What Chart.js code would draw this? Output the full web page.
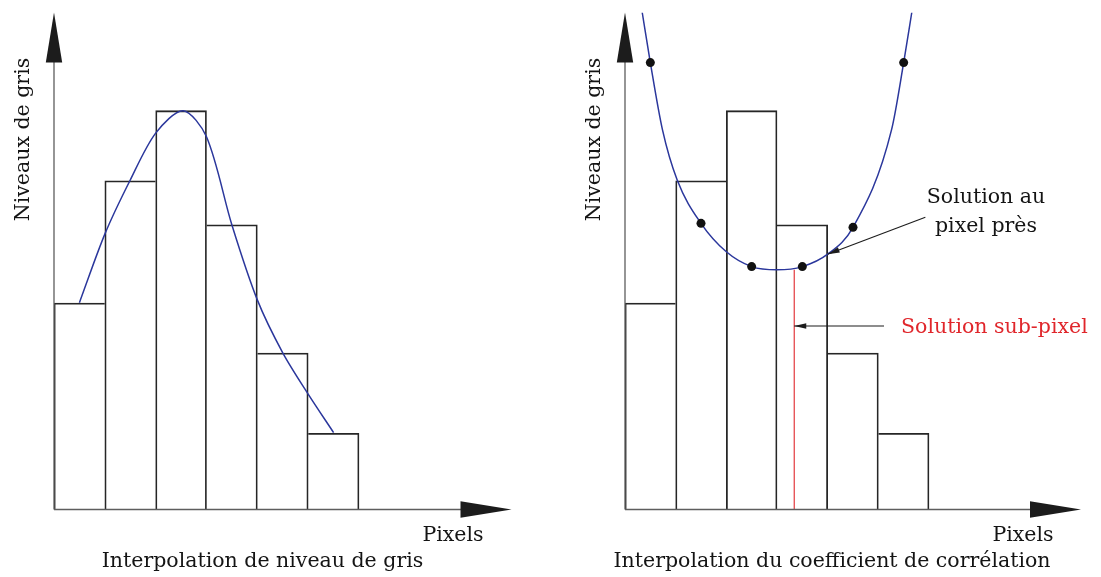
<!DOCTYPE html>
<html>
<head>
<meta charset="utf-8">
<script src="https://cdn.jsdelivr.net/npm/chart.js@4/dist/chart.umd.min.js"></script>
<style>
  html, body { margin: 0; padding: 0; background: #ffffff; }
  #wrap { position: relative; width: 1101px; height: 577px; overflow: hidden; }
  canvas { position: absolute; left: 0; top: 0; }
</style>
</head>
<body>
<div id="wrap">
  <canvas id="left" width="1101" height="577"></canvas>
  <canvas id="right" width="1101" height="577"></canvas>
</div>
<script>
// ---------------- data ----------------
const pixelCenters = [0.5, 1.5, 2.5, 3.5, 4.5, 5.5];          // pixel index (bar centres)
const grayLevels   = [51.5, 82, 99.5, 71, 39, 19];             // histogram bar heights

// interpolated grey-level curve (left panel)
const grayCurveX = [0.5, 1.0, 1.5, 2.0, 2.54, 3.0, 3.5, 4.0, 4.5, 5.0, 5.5];
const grayCurveY = [51.6, 68.7, 82.2, 93.9, 99.5, 93.0, 71.0, 52.3, 39.1, 28.8, 19.2];

// correlation coefficient samples (right panel dots)
const corrDotY = [111.5, 71.4, 60.6, 60.6, 70.4, 111.5];

// interpolated correlation curve (right panel)
const corrCurveX = [0.34, 0.5, 0.74, 1.03, 1.5, 2.0, 2.5, 3.0, 3.5, 4.0, 4.5, 5.26, 5.5, 5.66];
const corrCurveY = [124, 111.5, 94.7, 82.2, 71.4, 64.3, 60.6, 59.8, 60.6, 63.7, 70.4, 94.7, 111.5, 124];

// sub-pixel solution
const subPixelX = 3.34;
const subPixelY = 59.8;
// pixel-level solution (arrow target)
const pixelSolX = 4.0;
const pixelSolY = 63.7;

const xMax = 9;
const yMax = 124;

// ---------------- texts ----------------
const yTitle = 'Niveaux de gris';
const xTitle = 'Pixels';
const leftCaption = 'Interpolation de niveau de gris';
const rightCaption = 'Interpolation du coefficient de corrélation';
const noteLine1 = 'Solution au';
const noteLine2 = 'pixel près';
const subNote = 'Solution sub-pixel';

// ---------------- styles ----------------
const FONT = '20.5px "DejaVu Serif"';
const TEXT = '#141414';
const BAR_LINE = '#262626';
const AXIS_LINE = '#5e5e5e';
const BLUE = '#2b379c';
const RED = '#e0262b';

function toPts(xs, ys) { return xs.map((x, i) => ({ x: x, y: ys[i] })); }

function barBorder(ctx) {
  const i = ctx.dataIndex;
  const h = grayLevels[i];
  const lh = i > 0 ? grayLevels[i - 1] : -1;
  const rh = i < grayLevels.length - 1 ? grayLevels[i + 1] : -1;
  return { top: 1.1, bottom: 0, left: lh > h ? 0 : 1.1, right: rh >= h ? 0 : 1.1 };
}

function arrowHead(ctx, tx, ty, angle, len, half, color) {
  ctx.save();
  ctx.translate(tx, ty);
  ctx.rotate(angle);
  ctx.beginPath();
  ctx.moveTo(0, 0);
  ctx.lineTo(-len, -half);
  ctx.lineTo(-len, half);
  ctx.closePath();
  ctx.fillStyle = color;
  ctx.fill();
  ctx.restore();
}

function axesPlugin(cfg) {
  return {
    id: 'axesAndText',
    afterDatasetsDraw(chart) {
      const ctx = chart.ctx;
      const xs = chart.scales.x, ys = chart.scales.y;
      const x0 = xs.getPixelForValue(0);
      const y0 = ys.getPixelForValue(0);
      const xEnd = xs.getPixelForValue(xMax);
      const yTop = ys.getPixelForValue(yMax);
      ctx.save();
      ctx.strokeStyle = AXIS_LINE;
      ctx.lineWidth = 1.3;
      ctx.beginPath();
      ctx.moveTo(x0, y0);
      ctx.lineTo(xEnd - 40, y0);
      ctx.moveTo(x0, y0);
      ctx.lineTo(x0, yTop + 40);
      ctx.stroke();
      arrowHead(ctx, xEnd, y0, 0, 51, 8.2, '#1c1c1c');
      arrowHead(ctx, x0, yTop, -Math.PI / 2, 50, 8.2, '#1c1c1c');

      ctx.font = FONT;
      ctx.fillStyle = TEXT;
      ctx.textBaseline = 'alphabetic';
      // y title (rotated)
      ctx.save();
      ctx.translate(x0 - 25, yTop + 127);
      ctx.rotate(-Math.PI / 2);
      ctx.textAlign = 'center';
      ctx.fillText(yTitle, 0, 0);
      ctx.restore();
      // x title
      ctx.textAlign = 'center';
      ctx.fillText(xTitle, cfg.pixelsX, y0 + 31);
      ctx.fillText(cfg.caption, cfg.captionX, y0 + 57);

      if (cfg.notes) {
        // "Solution au pixel près" with arrow
        const tx = xs.getPixelForValue(pixelSolX), ty = ys.getPixelForValue(pixelSolY);
        const sx = tx + 97.7, sy = ty - 37;
        ctx.strokeStyle = '#1c1c1c';
        ctx.lineWidth = 1.1;
        ctx.beginPath();
        ctx.moveTo(sx, sy);
        ctx.lineTo(tx, ty);
        ctx.stroke();
        arrowHead(ctx, tx, ty, Math.atan2(ty - sy, tx - sx), 12, 2.8, '#1c1c1c');
        ctx.fillStyle = TEXT;
        ctx.textAlign = 'center';
        ctx.fillText(noteLine1, 986, 202.5);
        ctx.fillText(noteLine2, 986, 231.5);

        // sub-pixel arrow and label
        const rx = xs.getPixelForValue(subPixelX);
        const ay = 326;
        ctx.beginPath();
        ctx.moveTo(884, ay);
        ctx.lineTo(rx, ay);
        ctx.stroke();
        arrowHead(ctx, rx, ay, Math.PI, 12, 2.8, '#1c1c1c');
        ctx.fillStyle = RED;
        ctx.textAlign = 'left';
        ctx.fillText(subNote, 901, 332.5);
      }
      ctx.restore();
    }
  };
}

function baseScales() {
  return {
    x: { type: 'linear', min: 0, max: xMax, offset: false, display: false, ticks: { stepSize: 1 }, grid: { display: false } },
    y: { type: 'linear', min: 0, max: yMax, display: false, grid: { display: false } }
  };
}

const barDataset = () => ({
  type: 'bar',
  data: toPts(pixelCenters, grayLevels),
  backgroundColor: 'rgba(255,255,255,0)',
  borderColor: BAR_LINE,
  borderWidth: barBorder,
  borderSkipped: false,
  barPercentage: 1,
  categoryPercentage: 1,
  order: 4
});

// ---------------- left chart ----------------
new Chart(document.getElementById('left'), {
  type: 'bar',
  data: {
    datasets: [
      barDataset(),
      {
        type: 'line',
        data: toPts(grayCurveX, grayCurveY),
        borderColor: BLUE,
        borderWidth: 1.5,
        pointRadius: 0,
        fill: false,
        tension: 0.3,
        order: 1
      }
    ]
  },
  options: {
    responsive: false,
    animation: false,
    events: [],
    layout: { padding: { left: 54, right: 1101 - 511.5, top: 12.5, bottom: 577 - 509.5 } },
    scales: baseScales(),
    plugins: { legend: { display: false }, tooltip: { enabled: false }, title: { display: false } }
  },
  plugins: [axesPlugin({ pixelsX: 453, caption: leftCaption, captionX: 262.5, notes: false })]
});

// ---------------- right chart ----------------
new Chart(document.getElementById('right'), {
  type: 'bar',
  data: {
    datasets: [
      barDataset(),
      {
        type: 'line',
        data: [{ x: subPixelX, y: 0 }, { x: subPixelX, y: subPixelY }],
        borderColor: RED,
        borderWidth: 1.1,
        pointRadius: 0,
        fill: false,
        order: 3
      },
      {
        type: 'line',
        data: toPts(corrCurveX, corrCurveY),
        borderColor: BLUE,
        borderWidth: 1.5,
        pointRadius: 0,
        fill: false,
        cubicInterpolationMode: 'monotone',
        order: 2
      },
      {
        type: 'line',
        data: toPts(pixelCenters, corrDotY),
        showLine: false,
        pointRadius: 4.5,
        pointBackgroundColor: '#111111',
        pointBorderColor: '#111111',
        pointBorderWidth: 0,
        order: 1
      }
    ]
  },
  options: {
    responsive: false,
    animation: false,
    events: [],
    layout: { padding: { left: 625, right: 1101 - 1081, top: 12.5, bottom: 577 - 509.5 } },
    scales: baseScales(),
    plugins: { legend: { display: false }, tooltip: { enabled: false }, title: { display: false } }
  },
  plugins: [axesPlugin({ pixelsX: 1023, caption: rightCaption, captionX: 832, notes: true })]
});
</script>
</body>
</html>
